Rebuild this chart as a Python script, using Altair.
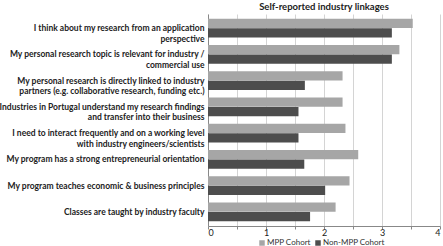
import altair as alt
import pandas as pd

categories = [
    "I think about my research from an application|perspective",
    "My personal research topic is relevant for industry /|commercial use",
    "My personal research is directly linked to industry|partners (e.g.  collaborative research, funding etc.)",
    "Industries in Portugal understand my research findings|and transfer into their business",
    "I need to interact frequently and on a working level|with industry engineers/scientists",
    "My program has a strong entrepreneurial orientation",
    "My program teaches economic & business principles",
    "Classes are taught by industry faculty",
]
mpp = [3.53, 3.30, 2.32, 2.32, 2.37, 2.59, 2.44, 2.20]
non_mpp = [3.17, 3.17, 1.67, 1.56, 1.56, 1.66, 2.02, 1.76]
series = ["MPP Cohort", "Non-MPP Cohort"]
colors = ["#a6a6a6", "#4d4d4d"]
tick_values = [0, 0.5, 1, 1.5, 2, 2.5, 3, 3.5, 4]

rows = []
for c, a, b in zip(categories, mpp, non_mpp):
    rows.append({"cat": c, "series": series[0], "value": a})
    rows.append({"cat": c, "series": series[1], "value": b})
df = pd.DataFrame(rows)

FONT = "Lato"

chart = alt.Chart(df).mark_bar().encode(
    y=alt.Y("cat:N", sort=categories, title=None,
            scale=alt.Scale(paddingInner=0.28, paddingOuter=0.18),
            axis=alt.Axis(labelExpr="split(datum.label, '|')", labelFont=FONT,
                          labelFontWeight="bold", labelFontSize=8.5, labelColor="#222",
                          labelLimit=300, ticks=False, domainColor="#888",
                          labelPadding=4, labelLineHeight=10.5)),
    yOffset=alt.YOffset("series:N", sort=series, scale=alt.Scale(paddingInner=0.04)),
    x=alt.X("value:Q", title=None,
            scale=alt.Scale(domain=[0, 4], nice=False),
            axis=alt.Axis(values=tick_values,
                          labelExpr="datum.value % 1 == 0 ? format(datum.value, 'd') : ''",
                          labelFont=FONT, labelFontSize=9, labelColor="#222",
                          gridColor="#d4d4d4", domainColor="#888", tickColor="#888",
                          tickSize=3, labelPadding=-1)),
    color=alt.Color("series:N", sort=series,
                    scale=alt.Scale(domain=series, range=colors),
                    legend=alt.Legend(title=None, orient="none", direction="horizontal",
                                      legendX=50, legendY=225, symbolType="square",
                                      symbolSize=30, symbolStrokeWidth=0,
                                      labelFont=FONT, labelFontSize=8, labelColor="#333",
                                      columnPadding=3, symbolOffset=0, labelOffset=1)),
).properties(
    width=232, height=212,
    title=alt.TitleParams("Self-reported industry linkages", font=FONT, fontSize=9.5,
                          fontWeight="bold", color="#222", offset=3),
    autosize=alt.AutoSizeParams(type="none"),
    padding={"left": 208, "top": 14, "right": 3, "bottom": 20},
).configure_view(stroke=None)

chart.save("out.html", embed_options={"renderer": "svg", "actions": False})
